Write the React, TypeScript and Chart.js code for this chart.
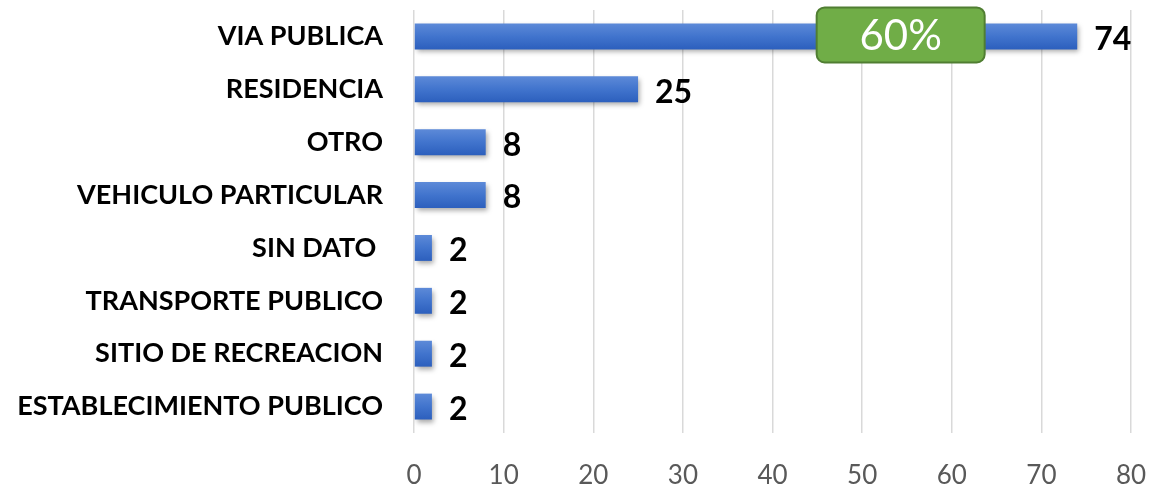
import React, { useEffect, useRef } from "react";
import { Chart, registerables } from "chart.js";

Chart.register(...registerables);

const categories = [
  "VIA PUBLICA",
  "RESIDENCIA",
  "OTRO",
  "VEHICULO PARTICULAR",
  "SIN DATO ",
  "TRANSPORTE PUBLICO",
  "SITIO DE RECREACION",
  "ESTABLECIMIENTO PUBLICO",
];
const values = [74, 25, 8, 8, 2, 2, 2, 2];
const xTicks = [0, 10, 20, 30, 40, 50, 60, 70, 80];
const calloutText = "60%";
const calloutValue = 54.3;
const calloutCategory = 0;

const FONT = "Lato, 'Open Sans', sans-serif";

export default function App() {
  const ref = useRef<HTMLCanvasElement | null>(null);

  useEffect(() => {
    document.body.style.margin = "0";
    const canvas = ref.current;
    if (!canvas) return;

    const shadowPlugin = {
      id: "barShadow",
      beforeDatasetsDraw(chart: any) {
        const ctx = chart.ctx;
        ctx.save();
        ctx.shadowColor = "rgba(0,0,0,0.35)";
        ctx.shadowBlur = 5;
        ctx.shadowOffsetX = 2;
        ctx.shadowOffsetY = 3;
      },
      afterDatasetsDraw(chart: any) {
        chart.ctx.restore();
      },
    };

    const labelPlugin = {
      id: "valueLabels",
      afterDatasetsDraw(chart: any) {
        const ctx = chart.ctx;
        const meta = chart.getDatasetMeta(0);
        ctx.save();
        ctx.font = `bold 32px ${FONT}`;
        ctx.fillStyle = "#000000";
        ctx.textAlign = "left";
        ctx.textBaseline = "middle";
        meta.data.forEach((bar: any, i: number) => {
          ctx.fillText(String(values[i]), bar.x + 17, bar.y + 3);
        });
        ctx.restore();
      },
    };

    const calloutPlugin = {
      id: "callout",
      afterDraw(chart: any) {
        const ctx = chart.ctx;
        const cx = chart.scales.x.getPixelForValue(calloutValue);
        const cy = chart.scales.y.getPixelForValue(calloutCategory);
        const w = 168;
        const h = 55;
        ctx.save();
        ctx.beginPath();
        ctx.roundRect(cx - w / 2, cy - 1.5 - h / 2, w, h, 8);
        ctx.fillStyle = "#70ad47";
        ctx.fill();
        ctx.lineWidth = 2;
        ctx.strokeStyle = "#507e32";
        ctx.stroke();
        ctx.fillStyle = "#ffffff";
        ctx.font = `42px ${FONT}`;
        ctx.textAlign = "center";
        ctx.textBaseline = "middle";
        ctx.fillText(calloutText, cx, cy);
        ctx.restore();
      },
    };

    const chart = new Chart(canvas, {
      type: "bar",
      data: {
        labels: categories,
        datasets: [
          {
            data: values,
            backgroundColor: (c: any) => {
              const ch = c.chart;
              const ys = ch.scales && ch.scales.y;
              if (!ys || !ch.chartArea || c.dataIndex === undefined) return "#4472c4";
              const mid = ys.getPixelForValue(c.dataIndex);
              const g = ch.ctx.createLinearGradient(0, mid - 13, 0, mid + 13);
              g.addColorStop(0, "#5d8ad8");
              g.addColorStop(0.5, "#4174cd");
              g.addColorStop(1, "#2c5fbd");
              return g;
            },
            borderWidth: 0,
            categoryPercentage: 0.7,
            barPercentage: 0.7,
          },
        ],
      },
      options: {
        indexAxis: "y",
        animation: false,
        responsive: false,
        maintainAspectRatio: false,
        layout: { padding: { top: 10, right: 20, left: 0, bottom: 0 } },
        plugins: {
          legend: { display: false },
          tooltip: { enabled: false },
        },
        scales: {
          x: {
            min: 0,
            max: 80,
            afterBuildTicks: (s: any) => {
              s.ticks = xTicks.map((v) => ({ value: v }));
            },
            grid: { color: "#d9d9d9", lineWidth: 1.5, drawTicks: false },
            border: { display: false },
            ticks: {
              color: "#595959",
              font: { family: FONT, size: 26 },
              padding: 27,
            },
            afterFit: (s: any) => {
              s.height = 58;
              s.paddingLeft = 0;
              s.paddingRight = 0;
            },
          },
          y: {
            grid: { display: false, drawTicks: false },
            border: { display: false },
            ticks: {
              color: "#000000",
              font: { family: FONT, size: 27, weight: "bold" },
              padding: 31,
            },
            afterFit: (s: any) => {
              s.width = 414;
              s.paddingTop = 0;
              s.paddingBottom = 0;
            },
          },
        },
      },
      plugins: [shadowPlugin, labelPlugin, calloutPlugin],
    } as any);

    return () => chart.destroy();
  }, []);

  return (
    <div style={{ width: 1151, height: 491 }}>
      <canvas ref={ref} width={1151} height={491} style={{ display: "block" }} />
    </div>
  );
}
